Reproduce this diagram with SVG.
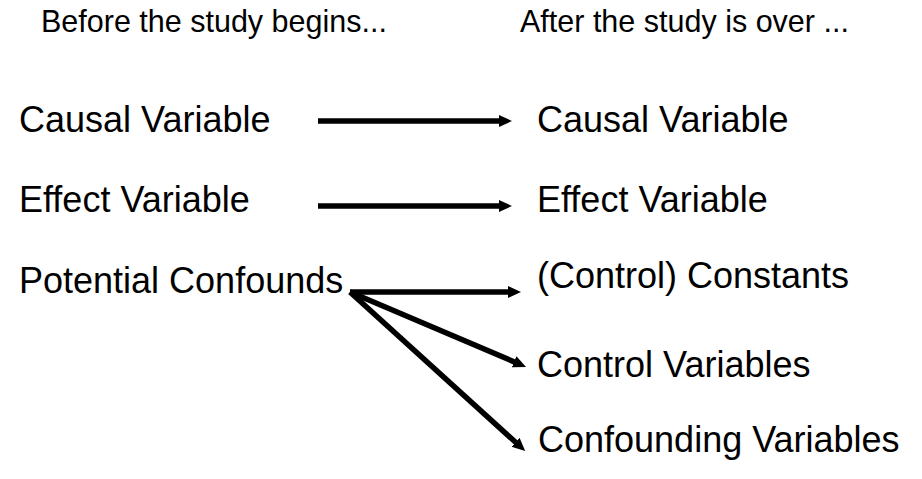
<svg xmlns="http://www.w3.org/2000/svg" width="922" height="479" viewBox="0 0 922 479">
<defs>
<style>
.hdr{font-family:"Liberation Sans",Arial,sans-serif;font-size:30.5px;fill:#000}
.lbl{font-family:"Liberation Sans",Arial,sans-serif;font-size:36px;fill:#000}
.conn{stroke:#000;stroke-width:5.5;fill:none;marker-end:url(#ah)}
</style>
<marker id="ah" markerUnits="userSpaceOnUse" markerWidth="15" markerHeight="13" refX="6" refY="6" orient="auto">
<path d="M0,0 L13,6 L0,12 z" fill="#000"/>
</marker>
</defs>
<rect width="922" height="479" fill="#fff"/>
<g id="header-before"><text class="hdr" x="41" y="32">Before the study begins...</text></g>
<g id="header-after"><text class="hdr" x="520" y="32">After the study is over ...</text></g>
<g id="causal-before"><text class="lbl" x="19" y="132">Causal Variable</text></g>
<g id="effect-before"><text class="lbl" x="19" y="212">Effect Variable</text></g>
<g id="confounds-before"><text class="lbl" x="19" y="293">Potential Confounds</text></g>
<g id="causal-after"><text class="lbl" x="537" y="132">Causal Variable</text></g>
<g id="effect-after"><text class="lbl" x="537" y="212">Effect Variable</text></g>
<g id="constants-after"><text class="lbl" x="537" y="288">(Control) Constants</text></g>
<g id="control-after"><text class="lbl" x="537" y="377">Control Variables</text></g>
<g id="confounding-after"><text class="lbl" x="538" y="452">Confounding Variables</text></g>
<g id="connectors">
<line class="conn" x1="318" y1="121" x2="505" y2="121"/>
<line class="conn" x1="318" y1="206" x2="505" y2="206"/>
<line class="conn" x1="350" y1="292" x2="514" y2="292"/>
<line class="conn" x1="350" y1="292" x2="519.6" y2="364.2"/>
<line class="conn" x1="350" y1="292" x2="520" y2="446.3"/>
</g>
</svg>
